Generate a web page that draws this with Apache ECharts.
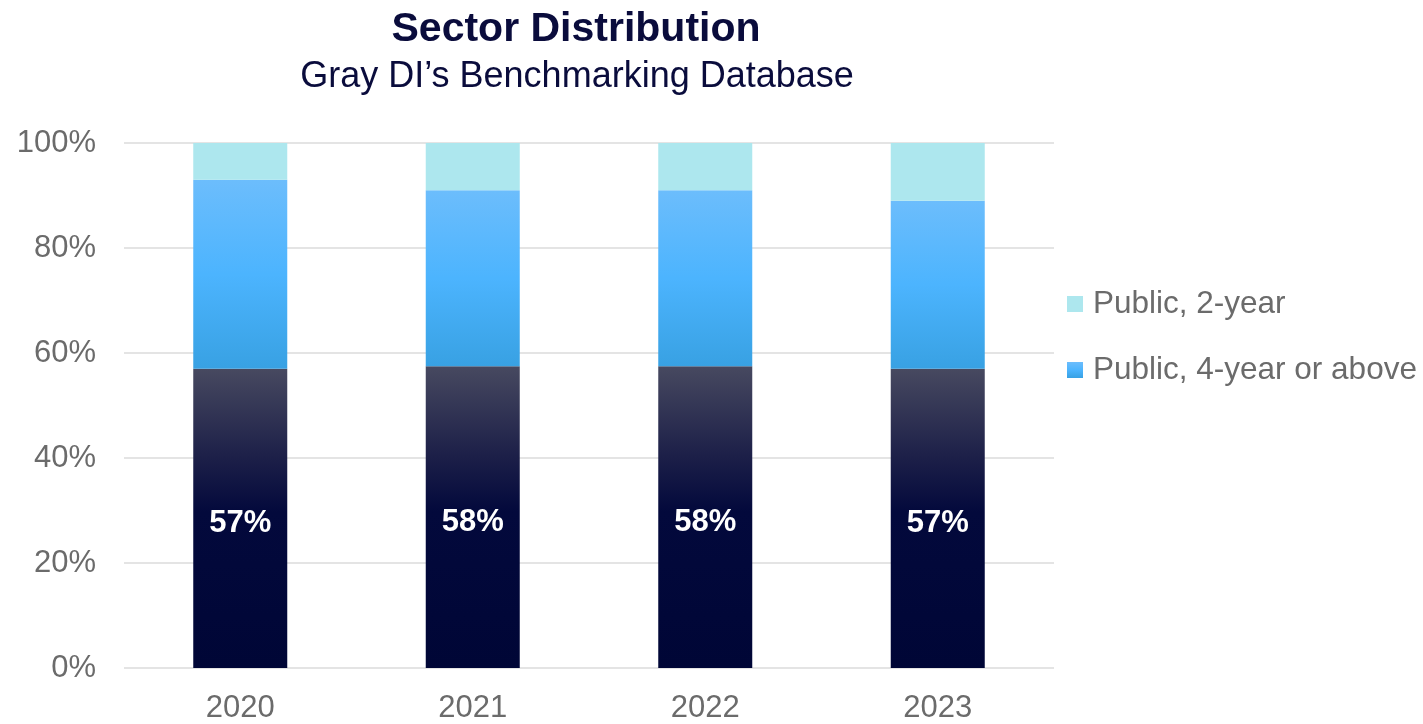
<!DOCTYPE html>
<html>
<head>
<meta charset="utf-8">
<script src="https://cdn.jsdelivr.net/npm/echarts@6/dist/echarts.min.js"></script>
<style>
  html, body { margin: 0; padding: 0; background: #ffffff; }
  #chart { width: 1423px; height: 724px; }
</style>
</head>
<body>
<div id="chart"></div>
<script>
// Sector shares by year (percent of institutions)
const years = ['2020', '2021', '2022', '2023'];
const otherSectors = [57, 57.5, 57.5, 57];
const publicFourYear = [36, 33.5, 33.5, 32];
const publicTwoYear = [7, 9, 9, 11];
const yTicks = [0, 20, 40, 60, 80, 100];

const FONT = '"Liberation Sans", Arial, Helvetica, sans-serif';
const NAVY = '#0a0c3c';

const chart = echarts.init(document.getElementById('chart'));

function vGrad(stops) {
  return new echarts.graphic.LinearGradient(0, 0, 0, 1,
    stops.map(([offset, color]) => ({ offset, color })));
}

chart.setOption({
  backgroundColor: '#ffffff',
  animation: false,
  title: [
    {
      text: 'Sector Distribution',
      left: 571, top: 4, textAlign: 'center',
      textStyle: { fontFamily: FONT, fontSize: 41, fontWeight: 'bold', color: NAVY }
    },
    {
      text: 'Gray DI\u2019s Benchmarking Database',
      left: 572, top: 54, textAlign: 'center',
      textStyle: { fontFamily: FONT, fontSize: 36, fontWeight: 'normal', color: NAVY }
    }
  ],
  legend: {
    orient: 'vertical',
    left: 1062, top: 281,
    itemWidth: 16, itemHeight: 16, itemGap: 30,
    icon: 'rect',
    data: ['Public, 2-year', 'Public, 4-year or above'],
    textStyle: { fontFamily: FONT, fontSize: 31.5, color: '#6b6b6b', lineHeight: 36, padding: [0, 0, 0, 5] },
    selectedMode: false
  },
  grid: { left: 124, right: 369, top: 143, bottom: 55, containLabel: false },
  xAxis: {
    type: 'category',
    data: years,
    axisLine: { show: false },
    axisTick: { show: false },
    axisLabel: { fontFamily: FONT, fontSize: 31, color: '#6b6b6b', margin: 25 }
  },
  yAxis: {
    type: 'value',
    min: 0, max: 100, interval: 20,
    axisLine: { show: false },
    axisTick: { show: false },
    splitLine: { lineStyle: { color: '#e4e4e4', width: 2 } },
    axisLabel: {
      fontFamily: FONT, fontSize: 31, color: '#6b6b6b', margin: 28,
      formatter: v => yTicks.includes(v) ? v + '%' : ''
    }
  },
  series: [
    {
      name: 'Other sectors',
      type: 'bar', stack: 'share', barWidth: 94,
      data: otherSectors,
      itemStyle: {
        color: vGrad([[0, '#474960'], [0.3, '#1c1f48'], [0.48, '#03093c'], [1, '#000636']])
      },
      label: {
        show: true, position: 'inside', offset: [0, 5],
        fontFamily: FONT, fontSize: 31, fontWeight: 'bold', color: '#ffffff',
        formatter: p => Math.round(p.value) + '%'
      }
    },
    {
      name: 'Public, 4-year or above',
      type: 'bar', stack: 'share', barWidth: 94,
      data: publicFourYear,
      itemStyle: {
        color: vGrad([[0, '#6cbdfc'], [0.5, '#4cb4fe'], [1, '#38a1e3']])
      }
    },
    {
      name: 'Public, 2-year',
      type: 'bar', stack: 'share', barWidth: 94,
      data: publicTwoYear,
      itemStyle: { color: '#ade7ee' }
    }
  ]
});
</script>
</body>
</html>
